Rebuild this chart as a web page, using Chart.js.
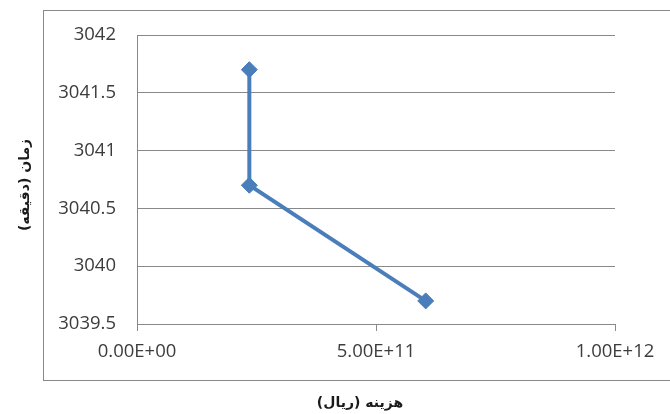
<!DOCTYPE html>
<html>
<head>
<meta charset="utf-8">
<script src="https://cdn.jsdelivr.net/npm/chart.js@4/dist/chart.umd.min.js"></script>
<style>
  html, body { margin: 0; padding: 0; background: #ffffff; }
  #wrap { width: 670px; height: 414px; position: relative; }
</style>
</head>
<body>
<div id="wrap"><canvas id="chart" width="670" height="414"></canvas></div>
<script>
// Cost (rial) against time (minutes)
const costRial = [2.35e11, 2.35e11, 6.04e11];
const timeMinutes = [3041.7, 3040.7, 3039.7];
const xTickValues = [0, 5e11, 1e12];
const yTickValues = [3039.5, 3040, 3040.5, 3041, 3041.5, 3042];
const xTitle = 'هزینه (ریال)';
const yTitle = 'زمان (دقیقه)';

const LINE_BLUE = '#4a7ebb';
const GRID_GRAY = '#898989';
const TEXT_GRAY = '#3c3c3c';

// Excel-style scientific notation, e.g. 5.00E+11
function sci(v) {
  const [mant, exp] = Number(v).toExponential(2).split('e');
  const sign = exp[0] === '-' ? '-' : '+';
  const digits = exp.replace(/^[+-]/, '').padStart(2, '0');
  return mant + 'E' + sign + digits;
}

// Frame around the plot and axis titles outside it
const framePlugin = {
  id: 'frame',
  beforeDraw(chart) {
    const ctx = chart.ctx;
    ctx.save();
    ctx.fillStyle = '#ffffff';
    ctx.fillRect(0, 0, chart.width, chart.height);
    ctx.strokeStyle = GRID_GRAY;
    ctx.lineWidth = 1;
    ctx.strokeRect(43.5, 10.5, 640, 370);
    ctx.restore();
  },
  afterDraw(chart) {
    const ctx = chart.ctx;
    ctx.save();
    ctx.fillStyle = '#1a1a1a';
    ctx.font = 'bold 14px "DejaVu Sans", sans-serif';
    ctx.textAlign = 'center';
    ctx.textBaseline = 'middle';
    ctx.direction = 'rtl';
    ctx.fillText(xTitle, 360, 403);
    ctx.translate(25, 185);
    ctx.rotate(-Math.PI / 2);
    ctx.fillText(yTitle, 0, 0);
    ctx.restore();
  }
};

const tickFont = { family: '"Open Sans", "Liberation Sans", sans-serif', size: 18.5 };

new Chart(document.getElementById('chart'), {
  type: 'scatter',
  data: {
    datasets: [{
      data: costRial.map((x, i) => ({ x: x, y: timeMinutes[i] })),
      showLine: true,
      borderColor: LINE_BLUE,
      backgroundColor: LINE_BLUE,
      borderWidth: 4,
      pointStyle: 'rectRot',
      pointRadius: 8,
      pointBorderWidth: 1,
      pointBorderColor: LINE_BLUE,
      pointBackgroundColor: LINE_BLUE,
      tension: 0
    }]
  },
  options: {
    responsive: false,
    animation: false,
    devicePixelRatio: 1,
    layout: { padding: { top: 35, right: 55, left: 0, bottom: 0 } },
    plugins: {
      legend: { display: false },
      tooltip: { enabled: false }
    },
    scales: {
      x: {
        type: 'linear',
        min: 0,
        max: 1e12,
        afterBuildTicks(scale) { scale.ticks = xTickValues.map(v => ({ value: v })); },
        afterFit(scale) { scale.height = 90; },
        grid: { drawOnChartArea: false, drawTicks: true, tickLength: 7, color: GRID_GRAY },
        border: { display: true, color: GRID_GRAY, width: 1 },
        ticks: {
          padding: 10,
          color: TEXT_GRAY,
          font: tickFont,
          maxRotation: 0,
          autoSkip: false,
          callback: v => sci(v)
        }
      },
      y: {
        type: 'linear',
        min: 3039.5,
        max: 3042,
        afterBuildTicks(scale) { scale.ticks = yTickValues.map(v => ({ value: v })); },
        afterFit(scale) { scale.width = 137; },
        grid: { drawTicks: false, color: GRID_GRAY },
        border: { display: true, color: GRID_GRAY, width: 1 },
        ticks: {
          padding: 21,
          color: TEXT_GRAY,
          font: tickFont,
          autoSkip: false,
          callback: v => String(v)
        }
      }
    }
  },
  plugins: [framePlugin]
});
</script>
</body>
</html>
